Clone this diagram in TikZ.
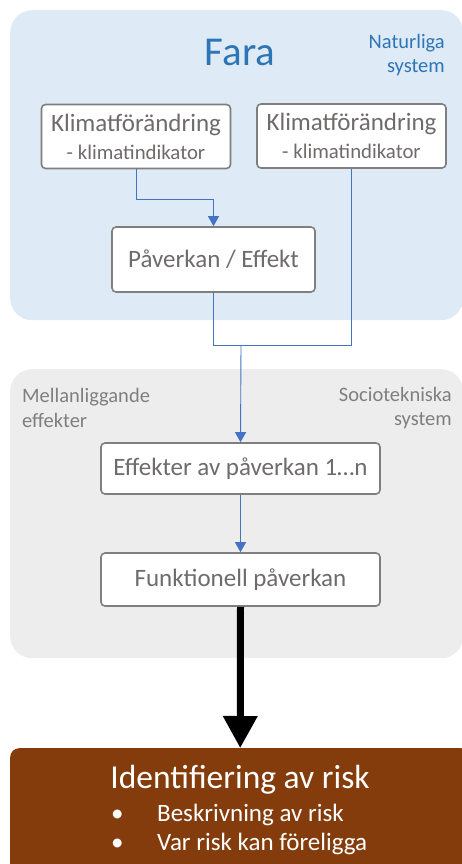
\documentclass[tikz,border=0pt]{standalone}
\usepackage{fontspec}
\setmainfont{Carlito}
\usepackage{tikz}
\usetikzlibrary{arrows.meta}
\definecolor{farablue}{HTML}{2E75B6}
\definecolor{farafill}{HTML}{DEEBF7}
\definecolor{linkblue}{HTML}{4472C4}
\definecolor{zonegray}{HTML}{EDEDED}
\definecolor{labelgray}{HTML}{7F7F7F}
\definecolor{boxtext}{HTML}{6F6B6B}
\definecolor{riskbrown}{HTML}{843C0C}
\tikzstyle{zone} = [rectangle, rounded corners=22pt, inner sep=0pt, anchor=north west]
\tikzstyle{diagbox} = [rectangle, rounded corners=4pt, draw=labelgray, line width=1.6pt,
fill=white, text=boxtext, align=center, inner sep=0pt, font=\fontsize{25}{28}\selectfont]
\tikzstyle{zonelabel} = [inner sep=0pt, text=labelgray, font=\fontsize{20.5}{24.5}\selectfont]
\tikzstyle{link} = [draw=linkblue, line width=0.9pt]
\tikzstyle{flowarrow} = [link, -{Triangle[width=11pt,length=10pt]}]
\tikzstyle{bigarrow} = [line width=7pt, -{Triangle[width=33pt,length=32pt]}]

\begin{document}
\begin{tikzpicture}[x=1pt, y=-1pt]
      \useasboundingbox (0,0) rectangle (461,864);
      % zones
      \node (farazone) [zone, fill=farafill, minimum width=453pt, minimum height=310pt] at (10,10) {};
      \node (sociozone) [zone, fill=zonegray, minimum width=453pt, minimum height=289pt] at (10,369) {};
      \node (risk) [zone, rounded corners=9pt, fill=riskbrown, minimum width=460pt, minimum height=160pt] at (10,748) {};

      \node (fara) [inner sep=0pt, text=farablue, font=\fontsize{41}{48}\selectfont] at (240,52) {Fara};
      \node (natur) [zonelabel, text=farablue, align=right, anchor=east] at (445,55) {Naturliga\\system};
      \node (mellan) [zonelabel, align=left, anchor=west] at (22,408) {Mellanliggande\\effekter};
      \node (socio) [zonelabel, align=right, anchor=east] at (452,408) {Sociotekniska\\system};

      \node (k1) [diagbox, minimum width=189pt, minimum height=64pt] at (136,136.5)
            {Klimatförändring\\{\fontsize{20.8}{28}\selectfont - klimatindikator}};
      \node (k2) [diagbox, minimum width=189pt, minimum height=64pt] at (351.5,136)
            {Klimatförändring\\{\fontsize{20.8}{28}\selectfont - klimatindikator}};
      \node (pe) [diagbox, minimum width=203pt, minimum height=65pt] at (213.5,259.5) {Påverkan / Effekt};
      \node (ea) [diagbox, minimum width=279pt, minimum height=51pt] at (240.5,468.5) {Effekter av påverkan 1…n};
      \node (fp) [diagbox, minimum width=279pt, minimum height=53pt] at (240.5,579.5) {Funktionell påverkan};

      \node (riskhead) [inner sep=0pt, text=white, font=\fontsize{33.5}{38}\selectfont] at (240,780) {Identifiering av risk};
      \node (risklist) [inner sep=0pt, text=white, align=left, anchor=west, font=\fontsize{25}{29}\selectfont] at (111,829.5)
            {\makebox[46pt][l]{\textbullet}Beskrivning av risk\\\makebox[46pt][l]{\textbullet}Var risk kan föreligga};

      \coordinate (merge) at (241,345);
      \draw [flowarrow] (k1.south) -- ++(0,30) -| (pe.north);
      \draw [link] (pe.south) |- (merge);
      \draw [link] (k2.south) |- (merge);
      \draw [flowarrow] (merge) -- (ea.north);
      \draw [flowarrow] (ea) -- (fp);
      \draw [bigarrow] (fp.south) -- (risk.north);
    \end{tikzpicture}
\end{document}
